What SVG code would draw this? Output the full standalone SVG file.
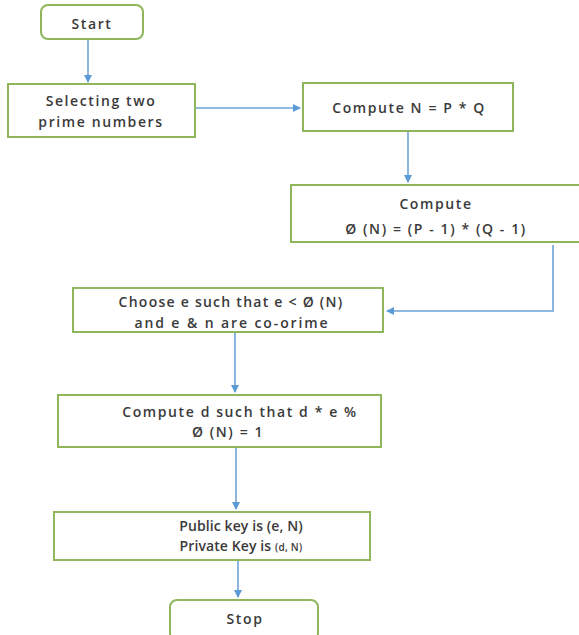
<svg xmlns="http://www.w3.org/2000/svg" width="579" height="635" viewBox="0 0 579 635">
  <defs>
    <marker id="arrow" viewBox="0 0 8 8" refX="7" refY="4" markerWidth="5" markerHeight="5" orient="auto" markerUnits="strokeWidth">
      <path d="M0,0 L8,4 L0,8 Z" fill="#5b9bd5"/>
    </marker>
    <style>
      .box { fill: #ffffff; stroke: #8fb65a; stroke-width: 2; }
      .edge { fill: none; stroke: #6fa3d9; stroke-width: 1.6; marker-end: url(#arrow); }
      text { font-family: "Open Sans", "Liberation Sans", sans-serif; font-size: 14px; font-weight: 600; letter-spacing: 1.6px; fill: #3a3a3a; text-anchor: middle; }
      .tight { letter-spacing: 0.1px; }
      .small { font-size: 10px; letter-spacing: 0.3px; }
    </style>
  </defs>
  <rect width="579" height="635" fill="#ffffff"/>

  <g id="connectors">
    <path class="edge" d="M88,40 L88,82"/>
    <path class="edge" d="M196,108 L300,108"/>
    <path class="edge" d="M408,132 L408,182"/>
    <path class="edge" d="M553,245 L553,311 L387,311"/>
    <path class="edge" d="M235,333 L235,392"/>
    <path class="edge" d="M236,448 L236,509"/>
    <path class="edge" d="M238,561 L238,597"/>
  </g>

  <g id="start">
    <rect class="box" x="41" y="5" width="102" height="34" rx="7"/>
    <text x="92" y="29">Start</text>
  </g>

  <g id="select-primes">
    <rect class="box" x="8" y="84" width="187" height="53"/>
    <text x="101" y="106">Selecting two</text>
    <text x="101" y="127">prime numbers</text>
  </g>

  <g id="compute-n">
    <rect class="box" x="303" y="83" width="210" height="48"/>
    <text x="409" y="113">Compute N = P * Q</text>
  </g>

  <g id="compute-phi">
    <rect class="box" x="291" y="185" width="290" height="57"/>
    <text x="436" y="209">Compute</text>
    <text x="436" y="234">Ø (N) = (P - 1) * (Q - 1)</text>
  </g>

  <g id="choose-e">
    <rect class="box" x="73" y="288" width="310" height="44"/>
    <text x="231" y="307" style="letter-spacing:1.25px">Choose e such that e &lt; Ø (N)</text>
    <text x="232" y="328" style="letter-spacing:1.9px">and e &amp; n are co-orime</text>
  </g>

  <g id="compute-d">
    <rect class="box" x="58" y="395" width="323" height="52"/>
    <text x="240" y="417">Compute d such that d * e %</text>
    <text x="228" y="437">Ø (N) = 1</text>
  </g>

  <g id="keys">
    <rect class="box" x="54" y="512" width="316" height="48"/>
    <text class="tight" x="241" y="531">Public key is (e, N)</text>
    <text class="tight" x="241" y="551">Private Key is <tspan class="small">(d, N)</tspan></text>
  </g>

  <g id="stop">
    <rect class="box" x="170" y="600" width="148" height="40" rx="7"/>
    <text x="245" y="624">Stop</text>
  </g>
</svg>
